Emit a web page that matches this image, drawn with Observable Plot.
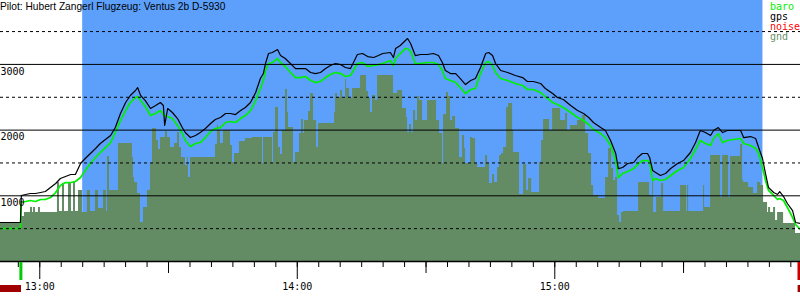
<!DOCTYPE html>
<html>
<head>
<meta charset="utf-8">
<script src="https://cdn.jsdelivr.net/npm/d3@7"></script>
<script src="https://cdn.jsdelivr.net/npm/@observablehq/plot@0.6"></script>
<style>
  html, body { margin: 0; padding: 0; background: #fff; }
  #wrap { position: relative; width: 800px; height: 300px; overflow: hidden; }
  #title { position: absolute; left: 0; top: 0; font: 10.2px "Liberation Sans", Arial, sans-serif; color: #000; line-height: 13px; white-space: nowrap; }
  #legend { position: absolute; left: 770px; top: 1.5px; font: 10px "DejaVu Sans Mono", monospace; line-height: 10px; }
</style>
</head>
<body>
<div id="wrap">
  <div id="chart"></div>
  <div id="title"></div>
  <div id="legend"></div>
</div>
<script>
// ---- Text ----
const title = "Pilot: Hubert Zangerl Flugzeug: Ventus 2b D-5930";
const legendNames = ["baro", "gps", "noise", "gnd"];
const legendColors = ["#00ee00", "#000000", "#ff0000", "#6a906a"];

// ---- Axis ticks (minutes after 13:00) ----
const hourTicks = [0, 60, 120];
const hourLabels = ["13:00", "14:00", "15:00"];
const halfHourTicks = [30, 90, 150];
const minorTicks = d3.range(-5, 176, 5);
const altLabels = [1000, 2000, 3000];
const solidGrid = [1000, 2000, 3000];
const dashedGrid = [500, 1500, 2500, 3500];

// ---- Flight phases (minutes after 13:00) ----
const skyStart = 10.0, skyEnd = 168.5;
const takeoff = -4.4, landing = 176.9;
const noiseStart = [-9.15, 176.7];
const noiseEnd = [-4.26, 177.25];

// ---- Track (minutes after 13:00, altitude m) ----
const trackTime = [-9.15,-8.0,-6.8,-5.7,-4.5,-4.3,-3.3,-2.2,-1.0,0.2,1.3,2.5,3.7,4.8,6.0,7.2,8.3,9.5,10.6,11.8,13.0,14.1,15.3,16.5,17.6,18.8,20.0,21.1,22.3,22.8,23.5,24.6,25.8,27.0,28.1,28.8,29.1,29.8,30.9,32.1,33.2,33.9,35.1,36.3,37.4,38.6,39.8,40.9,42.1,43.3,44.4,45.6,46.8,47.9,49.1,50.3,51.4,52.1,52.6,53.3,54.2,55.4,56.1,57.2,58.4,59.6,60.7,61.9,63.1,64.2,65.4,66.6,67.7,68.9,70.1,71.2,72.4,73.1,74.0,75.2,76.4,77.8,78.9,79.9,81.7,82.4,82.9,84.0,85.2,85.7,86.4,87.5,88.7,90.3,91.7,92.9,93.8,94.5,95.7,96.9,98.0,99.2,100.4,101.5,102.7,103.9,104.6,105.5,106.2,107.4,109.0,110.8,112.5,113.6,115.0,116.7,117.8,119.5,120.6,122.0,123.7,125.3,126.7,127.9,129.0,130.7,131.8,133.0,134.2,134.8,135.8,137.0,138.4,139.3,140.4,141.6,142.1,142.8,143.5,144.6,145.8,147.0,148.6,150.0,151.6,152.8,153.9,155.1,156.3,157.0,158.1,159.1,160.2,161.6,163.3,164.0,165.6,166.8,167.5,168.4,169.1,169.8,171.0,171.9,172.4,173.3,174.2,175.4,176.1,177.2];
const gpsAlt = [594,594,594,594,594,1005,1020,1035,1035,1050,1065,1126,1187,1263,1294,1324,1324,1492,1568,1644,1720,1796,1857,1918,2039,2253,2420,2527,2603,2648,2527,2450,2329,2374,2420,2374,2070,2329,2268,2176,2039,1963,1887,1918,1963,2024,2100,2161,2192,2253,2253,2237,2298,2344,2420,2572,2785,2861,3014,3166,3181,3227,3135,3090,3014,2937,2937,2937,2877,2861,2877,2937,2983,3014,2998,2953,2937,3029,3151,3166,3120,3105,3135,3166,3181,3105,3242,3288,3364,3394,3318,3135,3151,3151,3166,3135,3029,2907,2861,2861,2785,2694,2755,2785,2953,3166,3181,3135,3014,2907,2877,2831,2800,2740,2740,2709,2633,2557,2496,2466,2374,2298,2253,2192,2116,2039,1994,1842,1644,1415,1431,1492,1507,1583,1644,1644,1583,1385,1355,1309,1339,1415,1492,1537,1659,1811,1994,1963,1918,1994,2039,1963,1994,1994,1994,1887,1902,1872,1735,1568,1339,1126,1050,1020,1065,989,883,776,594,578];
const baroAlt = [502,502,502,502,502,898,913,928,913,944,944,974,1050,1157,1202,1202,1218,1278,1385,1492,1583,1659,1735,1811,1963,2146,2298,2420,2496,2511,2450,2359,2222,2253,2298,2237,2222,2207,2176,2070,1948,1842,1750,1796,1811,1887,1979,2024,2039,2116,2131,2116,2176,2222,2298,2450,2633,2755,2907,3014,3029,3090,3029,2968,2877,2800,2800,2816,2755,2724,2740,2800,2846,2877,2861,2816,2831,2907,3014,3029,2968,2983,2998,3014,3059,2983,3090,3166,3242,3242,3196,3014,3014,3029,3029,2998,2907,2785,2755,2724,2648,2557,2618,2633,2861,3029,3044,2983,2877,2785,2755,2709,2679,2618,2618,2572,2511,2420,2390,2344,2268,2192,2146,2085,2009,1948,1887,1766,1537,1278,1339,1370,1415,1476,1537,1537,1507,1233,1263,1233,1248,1309,1385,1431,1568,1705,1842,1796,1766,1872,1948,1811,1842,1857,1872,1796,1766,1720,1644,1431,1233,1081,1005,944,959,928,822,670,563,487];

// ---- Ground elevation under the track (step profile) ----
const gndTime = [-9.15,-4.26,-3.57,-2.17,-1.70,-1.47,-1.00,-0.30,0.16,4.12,4.59,5.29,5.76,6.69,7.39,7.86,8.32,9.02,9.95,11.11,11.81,12.98,13.68,14.84,15.54,15.78,16.24,18.34,21.60,21.83,22.07,22.77,23.47,24.16,25.10,25.80,26.26,27.19,27.66,28.13,29.29,29.76,30.46,31.39,32.09,32.55,33.02,33.95,34.42,34.65,35.12,40.94,41.41,41.64,42.11,42.81,44.44,44.91,45.37,46.54,47.94,49.57,51.90,52.13,54.23,54.46,54.93,55.62,56.09,56.56,57.26,57.72,57.96,59.12,59.59,60.52,60.99,61.45,61.69,62.62,63.09,63.79,64.49,64.95,68.68,68.92,69.38,70.08,70.55,71.25,71.48,72.18,72.88,74.74,76.14,76.61,77.07,77.54,78.24,78.70,82.43,83.36,84.53,85.46,85.69,86.16,86.62,87.09,87.56,88.02,88.49,89.19,90.35,92.45,93.15,93.85,94.08,94.78,95.25,95.71,96.18,96.88,97.81,98.51,98.98,99.21,100.38,100.84,101.54,102.01,103.87,104.34,104.80,105.50,105.97,106.67,107.14,107.60,108.07,108.77,109.23,110.17,110.40,111.80,112.73,113.43,113.90,114.60,116.46,116.93,117.39,118.79,119.49,121.35,122.52,122.98,123.68,125.31,126.47,127.17,127.87,128.57,129.04,130.20,131.83,132.53,133.23,133.70,134.16,134.63,135.10,135.56,136.03,139.52,142.09,142.79,143.02,143.72,144.88,145.35,149.31,150.71,150.94,151.18,154.67,154.91,156.30,158.63,159.10,160.50,160.96,163.29,163.76,163.99,165.16,166.32,167.25,167.95,168.65,169.58,169.81,170.28,170.98,171.44,171.91,173.31,176.10,177.25];
const gndAlt = [594,685,746,822,746,822,746,822,746,1202,761,1187,761,1202,761,1202,761,1081,746,1081,761,1081,807,1081,761,1598,1081,1796,1583,1278,1202,1035,594,822,1081,1492,2024,1842,1705,1887,1979,1887,1735,1796,1963,1735,1583,1461,1583,1278,1583,1781,2070,1994,1796,1994,1766,1507,1644,1826,1872,1887,1492,1887,1507,1963,2344,1735,1629,1994,2618,2268,2039,1507,1659,1948,2161,1948,2146,2283,2557,2146,1735,2100,2268,2557,2496,2603,2481,2770,2633,2481,2633,2831,2587,2481,2268,2527,2450,2831,2557,2603,2329,2192,1963,2085,1963,2298,2146,2511,2450,2146,2450,2146,1948,1492,2237,2572,2511,2146,2207,2024,1583,1918,1720,1492,1887,1872,1492,1431,1613,1492,1187,1324,1202,1431,1613,1644,1735,2344,2405,1994,1659,1020,1476,1081,1263,1050,1507,1842,2161,1994,2329,2146,2253,1994,2070,2146,2222,1948,1644,1157,1005,959,1278,1720,1415,1233,1278,700,594,746,761,1202,1005,1263,746,974,1187,761,1157,761,1157,761,1157,822,1613,974,1613,974,1598,1781,1233,1202,1126,1035,1202,1157,898,746,822,746,822,624,746,578,426,426];

const track = trackTime.map((t, i) => ({t, gps: gpsAlt[i], baro: baroAlt[i]}));
const ground = gndTime.map((t, i) => ({t, alt: gndAlt[i]}));
const noise = noiseStart.map((s, i) => ({x1: s, x2: noiseEnd[i]}));

const mono = "DejaVu Sans Mono, monospace";

const chart = Plot.plot({
  width: 800,
  height: 300,
  marginTop: 0,
  marginBottom: 39,
  marginLeft: 0,
  marginRight: 0,
  x: {domain: [-9.15, 177.25], axis: null},
  y: {domain: [0, 3973], axis: null},
  style: {background: "#fff", overflow: "visible"},
  marks: [
    Plot.rect([{x1: skyStart, x2: skyEnd}], {x1: "x1", x2: "x2", fill: "#5ca0fc"}),
    Plot.areaY(ground, {x: "t", y: "alt", curve: "step-after", fill: "#648c64"}),
    Plot.line(track, {x: "t", y: "baro", stroke: "#00f000", strokeWidth: 1.7}),
    Plot.line(track, {x: "t", y: "gps", stroke: "#000", strokeWidth: 1.2}),
    Plot.ruleY(solidGrid, {stroke: "#000", strokeWidth: 1}),
    Plot.ruleY(dashedGrid, {stroke: "#000", strokeWidth: 1, strokeDasharray: "3,3"}),
    Plot.text(altLabels, {y: d => d, text: d => String(d), frameAnchor: "left", textAnchor: "start", lineAnchor: "top", dy: 3, fontFamily: mono, fontSize: 10, fill: "#000"}),
    Plot.ruleY([0], {stroke: "#000", strokeWidth: 1.3}),
    Plot.axisX({ticks: minorTicks, tickSize: 6, tickFormat: () => "", label: null}),
    Plot.axisX({ticks: halfHourTicks, tickSize: 12, tickFormat: () => "", label: null}),
    Plot.axisX({ticks: hourTicks, tickSize: 18, tickPadding: 3, tickFormat: d => hourLabels[hourTicks.indexOf(d)], label: null, fontFamily: mono, fontSize: 10}),
    Plot.ruleX([takeoff], {stroke: "#00cc00", strokeWidth: 3, insetBottom: 243, dy: 262}),
    Plot.ruleX([landing], {stroke: "#cc0000", strokeWidth: 3, insetBottom: 243, dy: 262}),
    Plot.rect(noise, {x1: "x1", x2: "x2", fill: "#a00000", insetBottom: 254, dy: 285})
  ]
});
document.getElementById("chart").appendChild(chart);

document.getElementById("title").textContent = title;
const leg = document.getElementById("legend");
legendNames.forEach((n, i) => {
  const d = document.createElement("div");
  d.textContent = n;
  d.style.color = legendColors[i];
  leg.appendChild(d);
});
</script>
</body>
</html>
